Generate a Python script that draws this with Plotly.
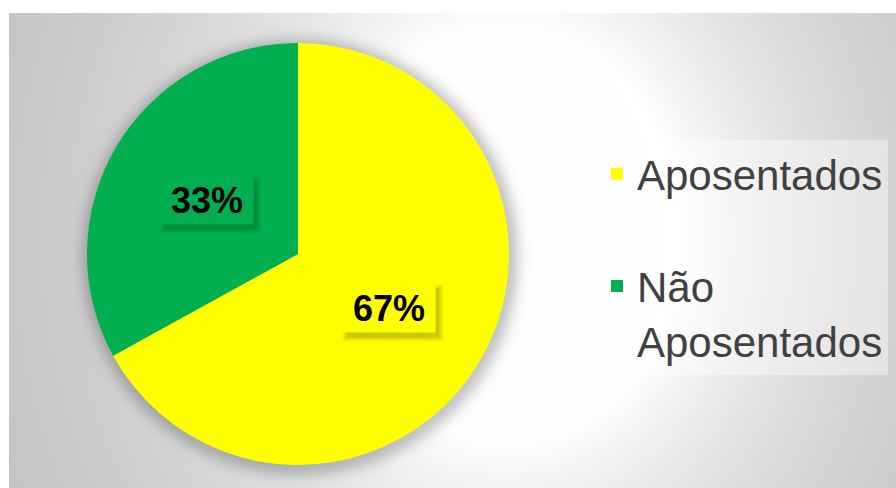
import base64, struct, zlib
import numpy as np
import plotly.graph_objects as go

# ---------------- data ----------------
categories = ["Aposentados", "Não Aposentados"]
values = [67, 33]
colors = ["#FFFF00", "#00B050"]

W, H = 896, 488
# pie geometry (pixels)
CX, CY, R = 298, 254, 211

# ---------------- background (radial gradient + pie glow) ----------------
def png_uri(arr):
    h, w, _ = arr.shape
    raw = b"".join(b"\x00" + arr[i].tobytes() for i in range(h))
    def chunk(t, d):
        c = struct.pack(">I", len(d)) + t + d
        return c + struct.pack(">I", zlib.crc32(t + d) & 0xFFFFFFFF)
    png = b"\x89PNG\r\n\x1a\n" + chunk(b"IHDR", struct.pack(">IIBBBBB", w, h, 8, 2, 0, 0, 0)) \
        + chunk(b"IDAT", zlib.compress(raw, 9)) + chunk(b"IEND", b"")
    return "data:image/png;base64," + base64.b64encode(png).decode()

BX0, BY0 = 9, 13
bw, bh = W - BX0, H - BY0
yy, xx = np.mgrid[0:bh, 0:bw].astype(float)
X = xx + BX0 + 0.5
Y = yy + BY0 + 0.5
dx = X - 505
dy = (Y - 235) * 0.85
r = np.sqrt(dx ** 2 + dy ** 2)
drop = 74 * (1 - np.exp(-np.maximum(0, r - 175) / 240))
g = 255 - drop
d = np.sqrt((X - CX - 2) ** 2 + (Y - CY - 3) ** 2)
alpha = 0.24 / (1 + np.exp((d - R - 7) / 4.0))
g = g * (1 - alpha)
img = np.clip(np.stack([g, g, g], axis=-1), 0, 255).astype(np.uint8)
bg_uri = png_uri(img)

# ---------------- figure ----------------
labels = [c.replace(" ", "<br>", 1) if " " in c else c + "<br> " for c in categories]

fig = go.Figure()
fig.add_trace(go.Pie(
    labels=labels,
    values=values,
    marker=dict(colors=colors, line=dict(width=0)),
    sort=False,
    direction="clockwise",
    rotation=0,
    textinfo="none",
    hoverinfo="label+percent",
    domain=dict(x=[(CX - R) / W, (CX + R) / W], y=[1 - (CY + R) / H, 1 - (CY - R) / H]),
))

# data labels placed at half radius along each slice's mid-angle
total = sum(values)
cum = 0.0
for v, c in zip(values, colors):
    mid = (cum + v / 2) / total * 2 * np.pi
    cum += v
    px = CX + 0.5 * R * np.sin(mid)
    py = CY - 0.5 * R * np.cos(mid)
    xp, ypp = px / W, 1 - py / H
    pct = f"{round(v / total * 100)}%"
    for sx, sy, a, ww, hh in [(4, -5, 0.05, 100, 56), (4, -5, 0.07, 96, 52), (4, -5, 0.10, 92, 48)]:
        fig.add_annotation(x=xp, y=ypp, xref="paper", yref="paper", text=" ",
                           xanchor="center", yanchor="middle",
                           showarrow=False, width=ww, height=hh, xshift=sx, yshift=sy,
                           bgcolor=f"rgba(0,0,0,{a})", borderpad=0)
    fig.add_annotation(x=xp, y=ypp, xref="paper", yref="paper",
                       xanchor="center", yanchor="middle",
                       text=f"<b>{pct}</b>", showarrow=False, width=92, height=48,
                       bgcolor=c, borderpad=0,
                       font=dict(family="Liberation Sans, Arial, sans-serif", size=36, color="#000000"))

fig.update_layout(
    width=W, height=H,
    margin=dict(l=0, r=0, t=0, b=0),
    paper_bgcolor="white",
    plot_bgcolor="white",
    images=[dict(source=bg_uri, xref="paper", yref="paper", x=BX0 / W, y=1 - BY0 / H,
                 sizex=bw / W, sizey=bh / H, sizing="stretch", layer="below",
                 xanchor="left", yanchor="top")],
    showlegend=True,
    legend=dict(
        x=597 / W, y=1 - 140 / H, xanchor="left", yanchor="top",
        bgcolor="rgba(255,255,255,0.4)",
        font=dict(family="Liberation Sans, Arial, sans-serif", size=42, color="#404040"),
        valign="top",
        tracegroupgap=0,
    ),
)

fig.write_html("out.html", config={"displayModeBar": False},
               post_script="document.body.style.margin='0';document.body.style.overflow='hidden';")
